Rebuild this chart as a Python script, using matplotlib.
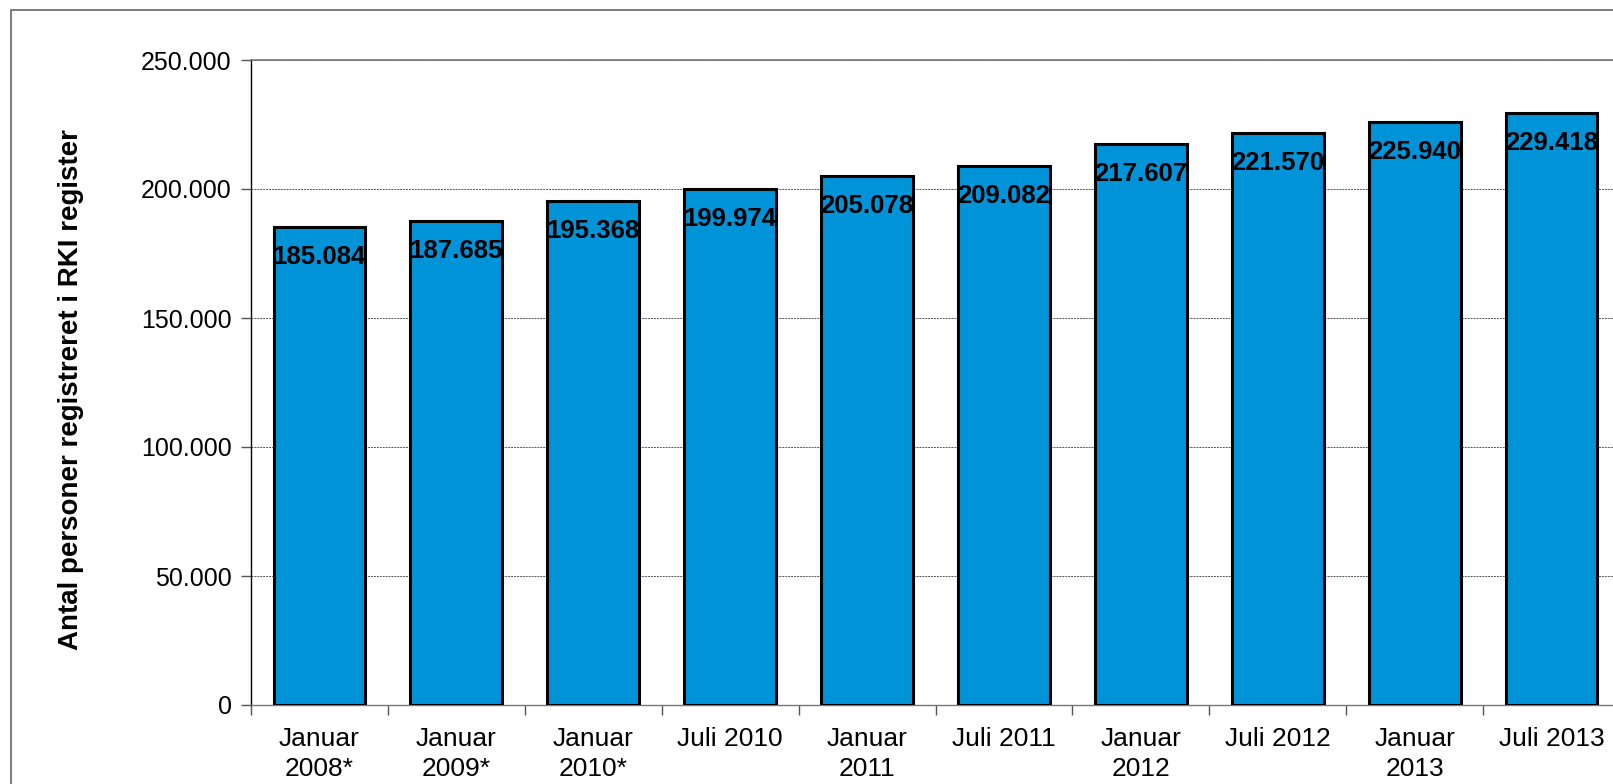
import matplotlib
matplotlib.use("Agg")
import matplotlib.pyplot as plt
import numpy as np
from matplotlib.patches import Rectangle
from matplotlib.ticker import FixedLocator

categories = ["Januar\n2008*", "Januar\n2009*", "Januar\n2010*", "Juli 2010", "Januar\n2011",
              "Juli 2011", "Januar\n2012", "Juli 2012", "Januar\n2013", "Juli 2013"]
values = [185084, 187685, 195368, 199974, 205078, 209082, 217607, 221570, 225940, 229418]
value_labels = ["185.084", "187.685", "195.368", "199.974", "205.078", "209.082",
                "217.607", "221.570", "225.940", "229.418"]
yticks = [0, 50000, 100000, 150000, 200000, 250000]
ytick_labels = ["0", "50.000", "100.000", "150.000", "200.000", "250.000"]

plt.rcParams['font.family'] = ['Liberation Sans', 'DejaVu Sans']

W, H = 1613, 784
fig = plt.figure(figsize=(W / 100, H / 100), dpi=100)

# outer frame (extends beyond right/bottom edges)
fig.patches.append(Rectangle((11 / W, -0.1), 1.2, (H - 10) / H + 0.1, transform=fig.transFigure,
                             fill=False, edgecolor='#666666', linewidth=1.2))

left, right, top, bottom = 251, 1620, 60, 705
ax = fig.add_axes([left / W, 1 - bottom / H, (right - left) / W, (bottom - top) / H])

x = np.arange(len(values))
ax.bar(x, values, width=0.67, color='#0093D8', edgecolor='black', linewidth=2.2, zorder=3)
ax.set_xlim(-0.5, len(values) - 0.5)
ax.set_ylim(0, 250000)

for xi, v, lab in zip(x, values, value_labels):
    ax.annotate(lab, (xi, v), xytext=(0, -30), textcoords='offset pixels',
                ha='center', va='center', fontsize=18.5, fontweight='bold', zorder=4)

ax.set_yticks(yticks)
ax.set_yticklabels(ytick_labels, fontsize=18)
ax.tick_params(axis='y', length=7, width=1, color='#555555', pad=7)

ax.set_xticks(x)
ax.set_xticklabels(categories, fontsize=19, linespacing=1.28)
ax.tick_params(axis='x', which='major', length=0, pad=16)
ax.xaxis.set_minor_locator(FixedLocator(np.arange(-0.5, len(values), 1.0)))
ax.tick_params(axis='x', which='minor', length=7, width=1, color='#555555')

ax.yaxis.grid(True, linestyle=(0, (2, 1)), color='#555555', linewidth=0.7, zorder=0)
ax.spines['right'].set_visible(False)
ax.spines['top'].set_color('#777777')
ax.spines['top'].set_linewidth(1.2)
ax.spines['left'].set_color('black')
ax.spines['left'].set_linewidth(1.0)
ax.spines['bottom'].set_color('#777777')
ax.spines['bottom'].set_linewidth(1.0)

fig.text(71 / W, 1 - 390 / H, "Antal personer registreret i RKI register", rotation=90,
         ha='center', va='center', fontsize=20, fontweight='bold')

fig.savefig("out.png", dpi=100)
